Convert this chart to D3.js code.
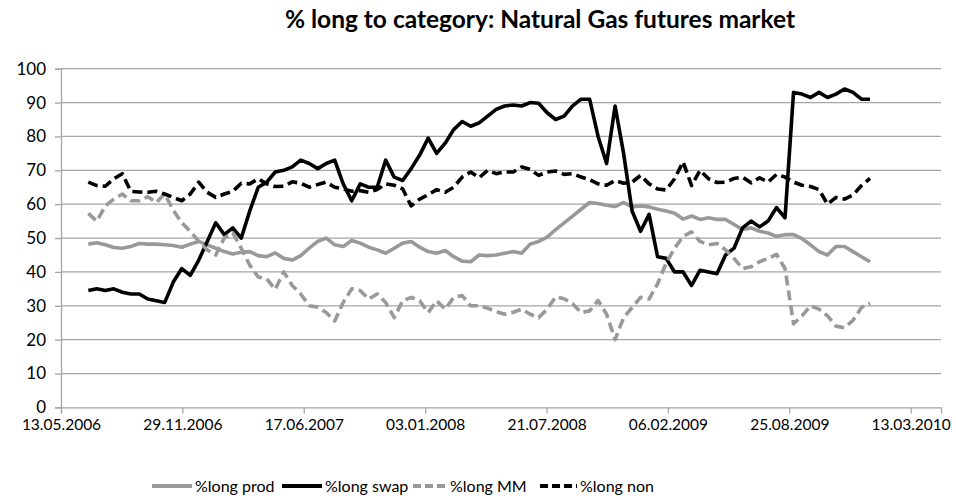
<!DOCTYPE html>
<html><head><meta charset="utf-8">
<script src="https://cdn.jsdelivr.net/npm/d3@7"></script>
<style>body{margin:0;background:#fff}svg{display:block}</style>
</head><body><svg id="c" width="956" height="500"></svg>
<script>
const title = "% long to category: Natural Gas futures market";
const startDate = "2006-06-27";   // first weekly report shown
const stepDays = 14;               // sampled every two weeks
const axisStart = "2006-05-13";
const axisEnd = "2010-05-02";
const xTickLabels = ["13.05.2006","29.11.2006","17.06.2007","03.01.2008","21.07.2008","06.02.2009","25.08.2009","13.03.2010"];
const yTicks = [0,10,20,30,40,50,60,70,80,90,100];
const seriesNames = ["%long prod","%long swap","%long MM","%long non"];

const prod = [48.2,48.6,48,47.2,47,47.5,48.4,48.2,48.2,48,47.8,47.3,48.2,49,48,47,46,45.3,45.8,46,
44.8,44.5,45.6,44,43.5,44.8,47,49,50,48,47.5,49.3,48.5,47.3,46.5,45.5,47,48.5,49,47.3,
46,45.5,46.3,44.5,43.2,43,45,44.8,45,45.5,46,45.5,48.2,49,50.3,52.5,54.5,56.5,58.5,60.5,
60.2,59.7,59.3,60.5,59.2,59.5,59.2,58.5,58,57.3,55.6,56.5,55.5,56,55.5,55.5,54,52.5,53,52,
51.5,50.5,51,51,49.8,48,46,45,47.5,47.5,46,44.5,43];
const swap = [34.5,35,34.5,35,34,33.5,33.5,32,31.5,31,37,41,39,43.5,49,54.5,51,53,50,58,
65,66.5,69.5,70,71,73,72,70.5,72,73,66,61,66,65,65,73,68,67,70.5,74.5,
79.5,75,78,82,84.4,83,84,86,88,89,89.3,89,90,89.8,87,85,86,89,91,91,
80,72,89,75,58,52,57,44.5,44,40,40,36,40.5,40,39.5,45,47,53,55,53.3,
55,59,56,93,92.5,91.5,93,91.5,92.5,94,93,91,91];
const mm = [57.3,55,59.5,61.5,63,61,61,62.2,60.5,63,58.2,54.5,52,49,46.5,45,50,51.5,47,42,
38.5,38,34.8,40,36,33.5,30,29.6,28,25.5,31,35,34.5,32,33.5,31,26.5,31.5,32.5,31.5,
28,31.5,29,32.5,33,30,30,29.3,28.3,27.5,28.1,29,27.5,26.5,29,32.6,32.1,30.6,28,28.5,
31.6,27.5,20,26.5,29.5,32.5,32,36.5,42.5,47,50.5,51.8,49,48,48.4,46.5,44,41,41.5,43,
44,45.2,41,24.7,27,30,29,27,24,23.5,25.7,29.5,30.8];
const non = [66.5,65.5,65.3,67.5,69,63.8,63.6,63.5,63.8,63,62,61,63,66.5,63.5,62,63,63.8,66.2,66,
67.5,66,65.2,65.3,66.6,66.2,65,65.8,66.5,65,64.5,63.8,64,63.5,64.3,66,65.6,64.5,59.5,61.5,
62.8,64.3,63.5,65,68,69.5,67.8,70,69,69.5,69.5,71,70.3,68.5,69.5,69.8,68.8,69,68,67.2,
66,65.6,67,66.2,66.5,68.5,66,64.5,64.2,67.5,72.5,65.5,70,67.5,66.4,66.5,67.6,68,66.3,67.8,
66.5,68.8,68,66.5,65.6,65.2,64.3,60,62,61.5,62.7,65.5,67.6];

const svg = d3.select("#c");
const M = {l:61, r:941, t:68.7, b:407.4};
const parse = d3.utcParse("%Y-%m-%d");
const x = d3.scaleUtc().domain([parse(axisStart), parse(axisEnd)]).range([M.l, M.r]);
const y = d3.scaleLinear().domain([0,100]).range([M.b, M.t]);
const tickDates = xTickLabels.map(s => d3.utcParse("%d.%m.%Y")(s));
const t0 = parse(startDate);
const dates = prod.map((_, i) => d3.utcDay.offset(t0, i*stepDays));

const gridColor = "#a6a6a6", txt = "#000", font = "Lato, 'Open Sans', sans-serif";

svg.append("text").attr("x", 540).attr("y", 28).attr("text-anchor","middle")
  .attr("font-family", font).attr("font-weight","bold").attr("font-size", 24.5)
  .attr("fill","#000").text(title);

// gridlines
svg.append("g").selectAll("line").data(yTicks.filter(d=>d>0)).join("line")
  .attr("x1", M.l).attr("x2", M.r).attr("y1", d=>y(d)).attr("y2", d=>y(d))
  .attr("stroke", gridColor).attr("stroke-width", 1.3);

// y axis
const ya = svg.append("g").attr("transform", `translate(${M.l},0)`)
  .call(d3.axisLeft(y).tickValues(yTicks).tickSize(6).tickPadding(9));
ya.select(".domain").attr("stroke", gridColor).attr("stroke-width",1.3);
ya.selectAll(".tick line").attr("stroke", gridColor).attr("stroke-width",1.3);
ya.selectAll("text").attr("font-family", font).attr("font-size", 17).attr("fill", txt);

// x axis
const xa = svg.append("g").attr("transform", `translate(0,${M.b})`)
  .call(d3.axisBottom(x).tickValues(tickDates).tickSize(6).tickPadding(6)
    .tickFormat((d,i)=>xTickLabels[i]));
xa.select(".domain").attr("stroke", gridColor).attr("stroke-width",1.3);
xa.selectAll(".tick line").attr("stroke", gridColor).attr("stroke-width",1.3);
xa.selectAll("text").attr("font-family", font).attr("font-size", 15.5).attr("fill", txt);

const styles = [
  {data: prod, color:"#999999", dash:null},
  {data: swap, color:"#000", dash:null},
  {data: mm, color:"#999999", dash:"10,5"},
  {data: non, color:"#000", dash:"10,5"}
];
const line = d3.line().x((d,i)=>x(dates[i])).y(d=>y(d));
styles.forEach(s => {
  svg.append("path").datum(s.data).attr("d", line)
    .attr("fill","none").attr("stroke", s.color).attr("stroke-width", 3.6)
    .attr("stroke-linejoin","round").attr("stroke-dasharray", s.dash);
});

// legend
const legX = [152, 282, 413, 540], legW = [40, 40, 34, 37];
const lg = svg.append("g");
seriesNames.forEach((n,i) => {
  const s = styles[i];
  lg.append("line").attr("x1", legX[i]).attr("x2", legX[i]+legW[i]).attr("y1", 486).attr("y2", 486)
    .attr("stroke", s.color).attr("stroke-width", 3.8).attr("stroke-dasharray", s.dash ? "8,4" : null);
  lg.append("text").attr("x", legX[i]+legW[i]+3).attr("y", 492).attr("font-family", font)
    .attr("font-size", 16).attr("fill", txt).text(n);
});
</script></body></html>
